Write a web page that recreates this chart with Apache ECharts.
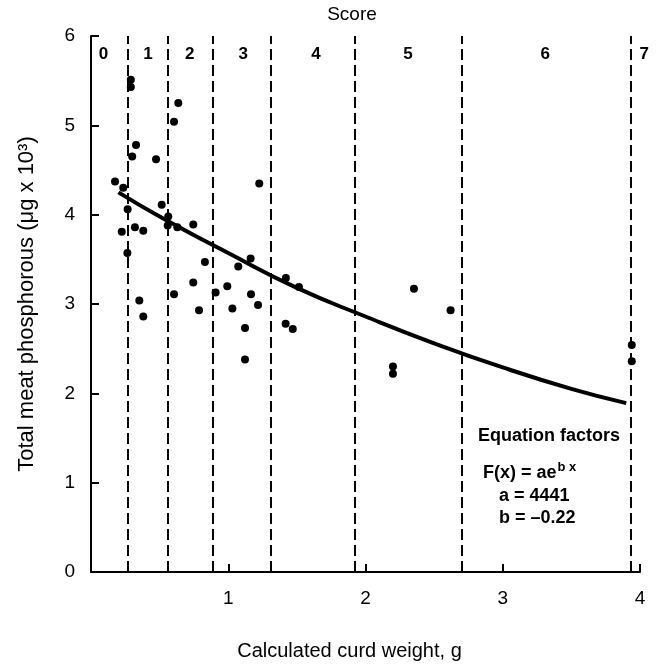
<!DOCTYPE html>
<html>
<head>
<meta charset="utf-8">
<script src="https://cdn.jsdelivr.net/npm/echarts@6/dist/echarts.min.js"></script>
<style>html,body{margin:0;padding:0;background:#fff;}#c{width:656px;height:666px;}</style>
</head>
<body>
<div id="c"></div>
<script>
// Observed points (curd weight g, phosphorous ug x 10^3)
const pointX = [0.175, 0.235, 0.267, 0.224, 0.32, 0.381, 0.265, 0.352, 0.381, 0.29, 0.29, 0.328, 0.30, 0.474, 0.515, 0.563, 0.559, 0.629, 0.605, 0.636, 0.605, 0.745, 0.745, 0.787, 0.83, 0.908, 0.993, 1.03, 1.073, 1.163, 1.166, 1.122, 1.122, 1.217, 1.226, 1.42, 1.418, 1.47, 1.515, 2.20, 2.20, 2.353, 2.62, 3.94, 3.94];
const pointY = [4.37, 4.30, 4.06, 3.81, 3.86, 3.82, 3.57, 3.04, 2.86, 5.51, 5.43, 4.78, 4.65, 4.62, 4.11, 3.98, 3.88, 3.86, 3.11, 5.25, 5.04, 3.89, 3.24, 2.93, 3.47, 3.13, 3.20, 2.95, 3.42, 3.51, 3.11, 2.73, 2.38, 2.99, 4.35, 3.29, 2.78, 2.72, 3.19, 2.30, 2.22, 3.17, 2.93, 2.54, 2.36];
// Fitted curve
const curveX = [0.2, 0.5, 1.0, 1.5, 2.0, 2.5, 3.0, 3.5, 3.9];
const curveY = [4.25, 3.98, 3.57, 3.18, 2.86, 2.56, 2.29, 2.05, 1.89];
// Score boundaries and labels
const scoreBounds = [0.27, 0.56, 0.89, 1.31, 1.92, 2.70, 3.93];
const scoreLabels = ['0', '1', '2', '3', '4', '5', '6', '7'];
const scoreLabelX = [0.09, 0.415, 0.72, 1.11, 1.64, 2.31, 3.31, 4.03];
const scoreLabelY = 5.8;
const xTicks = ['1', '2', '3', '4'];
const yTicks = ['0', '1', '2', '3', '4', '5', '6'];

const FONT = '"Liberation Sans", Arial, Helvetica, sans-serif';
const chart = echarts.init(document.getElementById('c'), null, {renderer: 'canvas'});

const option = {
  backgroundColor: '#fff',
  animation: false,
  textStyle: {fontFamily: FONT, color: '#000'},
  grid: {left: 91, right: 16, top: 36, bottom: 90},
  xAxis: {
    type: 'value', min: 0, max: 4, interval: 1,
    name: 'Calculated curd weight, g', nameLocation: 'middle', nameGap: 69,
    nameTextStyle: {fontSize: 20, color: '#000', fontFamily: FONT, padding: [0, 32, 0, 0]},
    axisLine: {show: true, lineStyle: {color: '#000', width: 2}},
    axisTick: {show: true, inside: true, length: 8, lineStyle: {color: '#000', width: 2}},
    axisLabel: {fontSize: 19, color: '#000', margin: 17, fontFamily: FONT,
      formatter: function (v) { return xTicks.indexOf(String(v)) >= 0 ? String(v) : ''; }},
    splitLine: {show: false}
  },
  yAxis: {
    type: 'value', min: 0, max: 6, interval: 1,
    name: 'Total meat phosphorous (\u03bcg x 10\u00b3)', nameLocation: 'middle', nameGap: 53,
    nameTextStyle: {fontSize: 22, color: '#000', fontFamily: FONT},
    axisLine: {show: true, lineStyle: {color: '#000', width: 2}},
    axisTick: {show: true, inside: true, length: 8, lineStyle: {color: '#000', width: 2}},
    axisLabel: {fontSize: 19, color: '#000', margin: 16, fontFamily: FONT,
      formatter: function (v) { return yTicks.indexOf(String(v)) >= 0 ? String(v) : ''; }},
    splitLine: {show: false}
  },
  series: [
    {
      type: 'scatter',
      data: pointX.map((x, i) => [x, pointY[i]]),
      symbolSize: 8,
      itemStyle: {color: '#000', opacity: 1},
      z: 5,
      markLine: {
        silent: true,
        symbol: ['none', 'none'],
        label: {show: false},
        lineStyle: {color: '#000', width: 2, type: [11, 5], opacity: 1},
        data: scoreBounds.map(v => ({xAxis: v}))
      }
    },
    {
      type: 'line',
      data: curveX.map((x, i) => [x, curveY[i]]),
      smooth: true,
      showSymbol: false,
      lineStyle: {color: '#000', width: 4},
      z: 4
    },
    {
      type: 'scatter',
      clip: false,
      data: scoreLabelX.map((x, i) => [x, scoreLabelY, scoreLabels[i]]),
      symbolSize: 0,
      itemStyle: {color: '#000', opacity: 1},
      label: {show: true, position: 'inside', fontSize: 17, fontWeight: 'bold', color: '#000', opacity: 1, fontFamily: FONT,
        formatter: p => p.value[2]}
    }
  ],
  graphic: [
    {type: 'text', x: 352, y: 15, style: {text: 'Score', fill: '#000', font: '19px ' + FONT, textAlign: 'center', textVerticalAlign: 'middle'}},
    {type: 'text', x: 478, y: 436, style: {text: 'Equation factors', fill: '#000', font: 'bold 18px ' + FONT, textVerticalAlign: 'middle'}},
    {type: 'text', x: 483, y: 473, style: {
      text: 'F(x) = ae{sup|b x}', fill: '#000', font: 'bold 18px ' + FONT, textVerticalAlign: 'middle',
      rich: {sup: {fontSize: 13, fontWeight: 'bold', fontFamily: FONT, fill: '#000', padding: [0, 0, 11, 1]}}
    }},
    {type: 'text', x: 499, y: 496, style: {text: 'a = 4441', fill: '#000', font: 'bold 18px ' + FONT, textVerticalAlign: 'middle'}},
    {type: 'text', x: 499, y: 518, style: {text: 'b = \u20130.22', fill: '#000', font: 'bold 18px ' + FONT, textVerticalAlign: 'middle'}}
  ]
};
chart.setOption(option);
</script>
</body>
</html>
